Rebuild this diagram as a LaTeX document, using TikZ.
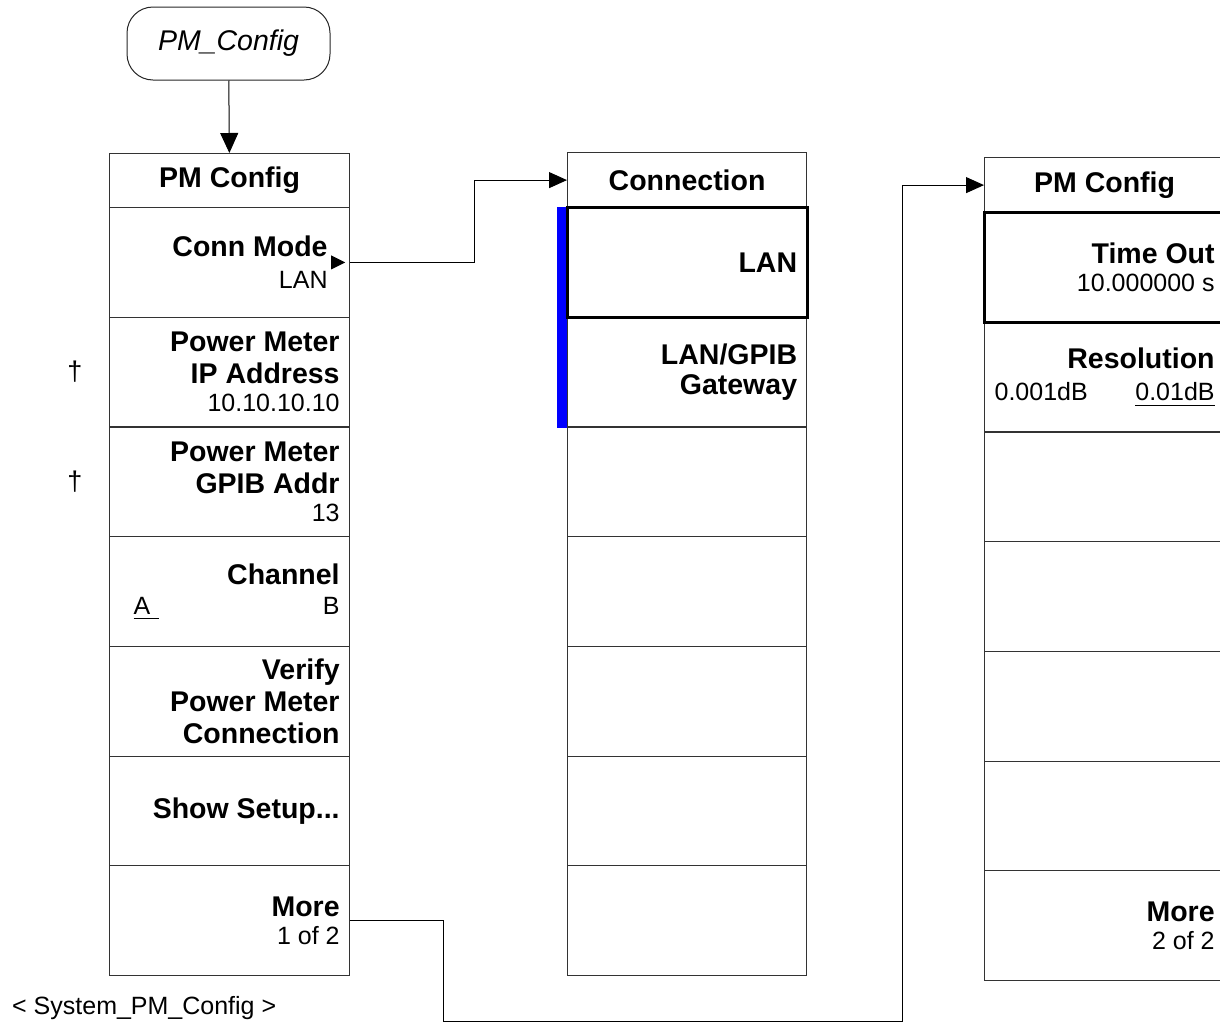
\documentclass[tikz,border=0pt]{standalone}
\usepackage{fontspec}
\setmainfont{Liberation Sans}
\usetikzlibrary{arrows.meta,calc}
\newcommand{\bfsz}{\fontsize{28.5}{32}\selectfont\bfseries}
\newcommand{\rgsz}{\fontsize{25}{29}\selectfont\mdseries}
\newcommand{\myul}[1]{\setbox0=\hbox{#1}\rlap{\rule[-5pt]{\wd0}{1.3pt}}\box0}
\begin{document}
\begin{tikzpicture}[x=1pt,y=-1pt,
  grid/.style={draw=black!80, line width=1.2pt},
  cell/.style={grid, rectangle, minimum height=109.7pt, minimum width=240pt,
    inner sep=0pt, text width=220pt, align=flush right, anchor=north west, font=\bfsz},
  titlecell/.style={grid, rectangle, minimum height=54pt, minimum width=240pt,
    inner sep=0pt, align=center, anchor=north west, font=\bfsz},
  startbox/.style={draw=black!85, line width=1pt, rounded corners=26pt,
    minimum width=203pt, minimum height=73pt, inner sep=0pt,
    font=\fontsize{28.5}{32}\selectfont\itshape},
  thickbox/.style={draw=black, line width=3pt},
  conn/.style={draw=black, line width=1pt},
  arrbig/.style={conn, -{Triangle[length=20pt,width=18pt]}},
  arr/.style={conn, -{Triangle[length=18pt,width=16pt]}},
  plain/.style={font=\rgsz, inner sep=0pt}
]
\useasboundingbox (0,0) rectangle (1220,1031);
\clip (0,0) rectangle (1220,1031);

% start terminal
\node[startbox] (start) at (228.5,43.5) {PM\_Config};

% left column
\node[titlecell] (L0) at (109,153) {PM Config};
\node[cell] (L1) at (109,207) {Conn Mode\kern12pt\\{\rgsz LAN}\kern12pt};
\node[cell] (L2) at (109,316.7) {Power Meter\\IP Address\\[-4pt]{\rgsz 10.10.10.10}};
\node[cell] (L3) at (109,426.4) {Power Meter\\GPIB Addr\\[-4pt]{\rgsz 13}};
\node[cell] (L4) at (109,536.1) {Channel\\[-2pt]{\rgsz\hspace*{14pt}\myul{A\kern9pt}\hfill B}};
\node[cell] (L5) at (109,645.8) {Verify\\Power Meter\\Connection};
\node[cell] (L6) at (109,755.5) {Show Setup...};
\node[cell] (L7) at (109,865.2) {More\\[-4pt]{\rgsz 1 of 2}};

% daggers
\node[plain, font=\fontsize{27}{30}\selectfont] (d1) at (75,372) {†};
\node[plain, font=\fontsize{27}{30}\selectfont] (d2) at (75,482) {†};

% middle column
\node[titlecell, minimum width=239pt, minimum height=55pt] (M0) at (567,152) {Connection};
\foreach \i/\t in {1/{LAN},2/{LAN/GPIB\\[-2pt]Gateway},3/{},4/{},5/{},6/{},7/{}}
  \node[cell, minimum width=239pt] (M\i) at (567,{207+109.7*(\i-1)}) {\t};
\fill[blue] ($(M1.north west)+(-10,0)$) rectangle (M2.south west);
\draw[thickbox] (M1.north west) rectangle (M1.south east);

% right column
\node[titlecell, minimum height=55pt] (R0) at (984,157) {PM Config};
\node[cell] (R1) at (984,212) {Time Out\\[-4pt]{\rgsz 10.000000 s}};
\node[cell] (R2) at (984,321.7) {Resolution\\{\rgsz 0.001dB\hfill\myul{0.01dB}}};
\foreach \i in {3,4,5,6}
  \node[cell] (R\i) at (984,{212+109.7*(\i-1)}) {};
\node[cell] (R7) at (984,870.2) {More\\[-4pt]{\rgsz 2 of 2}};
\draw[thickbox] (R1.north west) rectangle (R1.south east);

% footer
\node[plain, anchor=base west] (foot) at (12,1014) {< System\_PM\_Config >};

% connectors
\draw[arrbig] (start) -- (L0);
\fill[black] ($(L1.east)+(-5,0)$) -- ++(-14,-7) -- ++(0,14) -- cycle;
\draw[arr] (L1.east) -- ++(124,0) |- (M0.west);
\draw[arr] (L7.east) -- ++(93,0) -- ++(0,100.5) -| ($(R0.west)+(-82,0)$) -- (R0.west);
\end{tikzpicture}
\end{document}
